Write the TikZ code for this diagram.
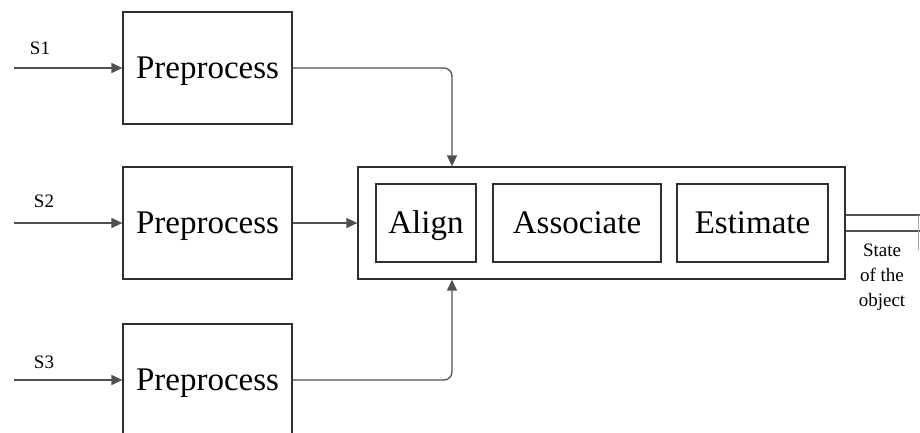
\documentclass[tikz,border=0pt]{standalone}
\usepackage{fontspec}
\setmainfont{Liberation Serif}
\usetikzlibrary{arrows.meta,positioning,calc}
\definecolor{boxline}{HTML}{2E2E2E}
\definecolor{conline}{HTML}{505050}
\begin{document}
\begin{tikzpicture}[x=1pt,y=-1pt,
  blk/.style={draw=boxline,line width=1.3pt,minimum height=112pt,inner sep=0pt,text height=22pt,text depth=2pt,font=\fontsize{33}{36}\selectfont},
  inner/.style={draw=boxline,line width=1.3pt,minimum height=78pt,inner sep=0pt,text height=22pt,text depth=2pt,font=\fontsize{33}{36}\selectfont},
  con/.style={draw=conline,line width=1.3pt,rounded corners=8pt,-{Triangle[length=11pt,width=10pt]}},
  lbl/.style={font=\fontsize{19}{25}\selectfont,inner sep=0pt}]
\useasboundingbox (0,0) rectangle (920,432);
\node[blk,minimum width=169pt] (p1) at (207.5,68) {Preprocess};
\node[blk,minimum width=169pt] (p2) at (207.5,223) {Preprocess};
\node[blk,minimum width=169pt] (p3) at (207.5,380) {Preprocess};
\node[draw=boxline,line width=1.3pt,minimum width=487pt,minimum height=112pt,inner sep=0pt] (outer) at (601.5,223) {};
\node[inner,minimum width=100pt] (al) at (426,223) {Align};
\node[inner,minimum width=168pt] (as) at (577,223) {Associate};
\node[inner,minimum width=151pt] (es) at (752.5,223) {Estimate};
\coordinate (in1) at (14,68);
\coordinate (in2) at (14,223);
\coordinate (in3) at (14,380);
\draw[con] (in1) -- (p1.west);
\draw[con] (in2) -- (p2.west);
\draw[con] (in3) -- (p3.west);
\node[lbl] (s1) at (40,48) {S1};
\node[lbl] (s2) at (44,201) {S2};
\node[lbl] (s3) at (44,362) {S3};
\draw[con] (p1.east) -| ([xshift=-149.5pt]outer.north);
\draw[con] (p3.east) -| ([xshift=-149.5pt]outer.south);
\draw[con] (p2.east) -- (outer.west);
\coordinate (out) at (920,223);
\draw[conline,line width=1.3pt,double=white,double distance=14.5pt] (outer.east) -- (out);
\draw[conline!50,line width=1pt] (918.5,215) -- (918.5,250);
\node[lbl,align=center,anchor=north] (st) at (882,244) {State\\of the\\object};
\end{tikzpicture}
\end{document}
